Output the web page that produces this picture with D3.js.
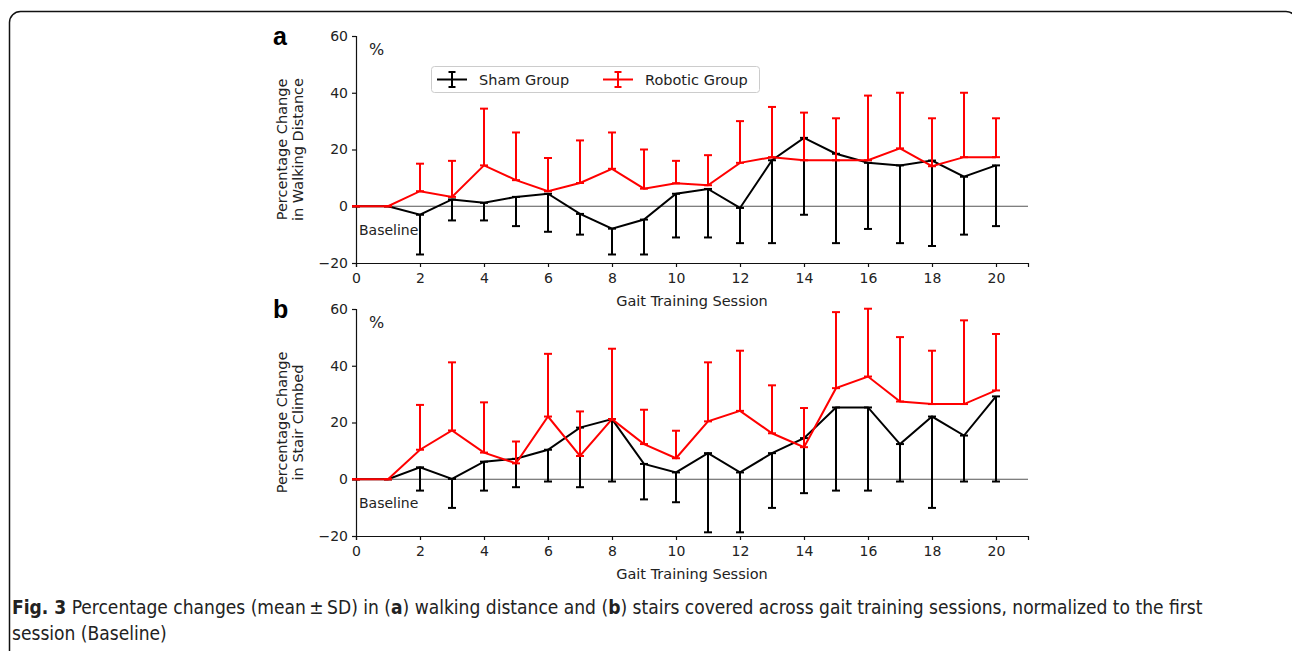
<!DOCTYPE html>
<html>
<head>
<meta charset="utf-8">
<script src="https://cdn.jsdelivr.net/npm/d3@7"></script>
<style>
  body { margin: 0; background: #fff; }
  svg { display: block; }
  .tick text { font-family: "DejaVu Sans", sans-serif; font-size: 14px; fill: #222; }
</style>
</head>
<body>
<div id="chart"></div>
<script>
// sessions 0..20
var sessions = d3.range(0, 21);
var yTicks = [-20, 0, 20, 40, 60];
var xTicks = [0, 2, 4, 6, 8, 10, 12, 14, 16, 18, 20];
var seriesNames = ["Sham Group", "Robotic Group"];

// panel a: walking distance (mean, SD)
var walkShamMean = [0, 0, -3, 2.4, 1.2, 3.3, 4.4, -2.7, -7.9, -4.7, 4.4, 6.1, -0.6, 16.2, 24.1, 18.5, 15.3, 14.4, 16.1, 10.4, 14.4];
var walkShamSD = [0, 0, 14, 7.4, 6.2, 10.3, 13.4, 7.3, 9.1, 12.3, 15.4, 17.1, 12.4, 29.2, 27.1, 31.5, 23.3, 27.4, 30.1, 20.4, 21.4];
var walkRoboMean = [0, 0, 5.3, 3.3, 14.4, 9.2, 5.3, 8.2, 13.2, 6.2, 8.1, 7.4, 15.3, 17.3, 16.2, 16.2, 16.2, 20.4, 14.1, 17.3, 17.3];
var walkRoboSD = [0, 0, 9.7, 12.7, 20, 16.8, 11.7, 15, 12.8, 13.8, 7.9, 10.6, 14.7, 17.7, 16.8, 14.8, 22.8, 19.6, 16.9, 22.7, 13.7];

// panel b: stairs climbed (mean, SD)
var stairShamMean = [0, 0, 4.2, 0.1, 6.2, 7.2, 10.4, 18.2, 21.2, 5.4, 2.4, 9.2, 2.4, 9.2, 14.5, 25.3, 25.3, 12.4, 22.1, 15.4, 29.2];
var stairShamSD = [0, 0, 8.2, 10.2, 10.2, 10, 11.2, 21, 22, 12.5, 10.5, 27.9, 21.1, 19.3, 19.4, 29.3, 29.3, 13.2, 32.2, 16.2, 30];
var stairRoboMean = [0, 0, 10.4, 17.2, 9.4, 5.6, 22.1, 8.2, 21.2, 12.4, 7.4, 20.4, 24.1, 16.2, 11.3, 32.1, 36.2, 27.4, 26.5, 26.5, 31.3];
var stairRoboSD = [0, 0, 15.8, 24, 17.7, 7.7, 22.1, 15.7, 24.8, 12.1, 9.7, 20.8, 21.2, 16.9, 13.8, 26.8, 23.9, 22.7, 18.8, 29.5, 19.9];

var svgWidth = 1292;
var svgHeight = 651;
var red = "#ff0000";

var svg = d3.select("#chart")
  .append("svg")
  .attr("width", svgWidth)
  .attr("height", svgHeight);

// figure frame (rounded, open below)
svg.append("rect")
  .attr("x", 9.5).attr("y", 11.5)
  .attr("width", 1287.5).attr("height", 700)
  .attr("rx", 11)
  .attr("fill", "none")
  .attr("stroke", "#111")
  .attr("stroke-width", 1.5);

var x = d3.scaleLinear().domain([0, 21]).range([356, 1028]);

function drawPanel(opts) {
  var y = d3.scaleLinear().domain([-20, 60]).range([opts.bottom, opts.top]);
  var g = svg.append("g");

  // zero line
  g.append("line")
    .attr("x1", x(0)).attr("x2", x(21))
    .attr("y1", y(0)).attr("y2", y(0))
    .attr("stroke", "#555").attr("stroke-width", 1);

  // axes
  var xAxis = g.append("g")
    .attr("transform", `translate(0, ${opts.bottom})`)
    .call(d3.axisBottom(x).tickValues(xTicks).tickSize(4).tickPadding(4));
  var yAxis = g.append("g")
    .attr("transform", `translate(${x(0)}, 0)`)
    .call(d3.axisLeft(y).tickValues(yTicks).tickSize(4).tickPadding(4)
      .tickFormat(d => d < 0 ? "\u2212" + Math.abs(d) : d));
  [xAxis, yAxis].forEach(function (a) {
    a.select(".domain").attr("stroke", "#111").attr("stroke-width", 1.2);
    a.selectAll(".tick line").attr("stroke", "#111").attr("stroke-width", 1.2);
  });
  xAxis.selectAll(".tick text").attr("dy", "0.85em");

  var series = [
    { mean: opts.shamMean, sd: opts.shamSD, color: "#000", dir: -1 },
    { mean: opts.roboMean, sd: opts.roboSD, color: red, dir: 1 }
  ];

  series.forEach(function (s) {
    var pts = sessions.map(function (d, i) {
      return { x: d, m: s.mean[i], e: s.mean[i] + s.dir * s.sd[i] };
    });
    var line = d3.line().x(d => x(d.x)).y(d => y(d.m));
    g.append("path")
      .datum(pts)
      .attr("d", line)
      .attr("fill", "none")
      .attr("stroke", s.color)
      .attr("stroke-width", 2);

    // one-sided error bars with caps at both ends
    var bars = g.append("g").attr("stroke", s.color).attr("stroke-width", 2);
    bars.selectAll(".bar").data(pts).enter().append("line")
      .attr("x1", d => x(d.x)).attr("x2", d => x(d.x))
      .attr("y1", d => y(d.m)).attr("y2", d => y(d.e));
    bars.selectAll(".capE").data(pts).enter().append("line")
      .attr("x1", d => x(d.x) - 4).attr("x2", d => x(d.x) + 4)
      .attr("y1", d => y(d.e)).attr("y2", d => y(d.e));
    bars.selectAll(".capM").data(pts).enter().append("line")
      .attr("x1", d => x(d.x) - 4).attr("x2", d => x(d.x) + 4)
      .attr("y1", d => y(d.m)).attr("y2", d => y(d.m));
  });

  // labels
  g.append("text")
    .attr("x", 273).attr("y", opts.top + 9)
    .style("font-family", "Liberation Sans, Arial, sans-serif")
    .style("font-weight", "bold").style("font-size", "25px")
    .text(opts.letter);
  g.append("text")
    .attr("x", 369).attr("y", opts.top + 19)
    .style("font-family", "DejaVu Sans, sans-serif").style("font-size", "16px")
    .attr("fill", "#222")
    .text("%");
  g.append("text")
    .attr("x", 359).attr("y", y(0) + 29)
    .style("font-family", "DejaVu Sans, sans-serif").style("font-size", "14px")
    .attr("fill", "#222")
    .text("Baseline");
  g.append("text")
    .attr("x", (x(0) + x(21)) / 2).attr("y", opts.bottom + 43)
    .attr("text-anchor", "middle")
    .style("font-family", "DejaVu Sans, sans-serif").style("font-size", "14.5px")
    .attr("fill", "#222")
    .text("Gait Training Session");
  var yMid = (opts.top + opts.bottom) / 2;
  var yl = g.append("text")
    .attr("transform", `translate(287, ${yMid}) rotate(-90)`)
    .attr("text-anchor", "middle")
    .style("font-family", "DejaVu Sans, sans-serif").style("font-size", "14.5px")
    .attr("fill", "#222");
  yl.append("tspan").attr("x", 0).attr("y", 0).text("Percentage Change");
  yl.append("tspan").attr("x", 0).attr("y", 16).text(opts.ylabel2);
  return y;
}

drawPanel({
  top: 36, bottom: 263, letter: "a", ylabel2: "in Walking Distance",
  shamMean: walkShamMean, shamSD: walkShamSD, roboMean: walkRoboMean, roboSD: walkRoboSD
});
drawPanel({
  top: 309, bottom: 536, letter: "b", ylabel2: "in Stair Climbed",
  shamMean: stairShamMean, shamSD: stairShamSD, roboMean: stairRoboMean, roboSD: stairRoboSD
});

// legend
var legend = svg.append("g");
legend.append("rect")
  .attr("x", 431.5).attr("y", 66.5).attr("width", 328).attr("height", 26)
  .attr("rx", 3)
  .attr("fill", "#fff").attr("fill-opacity", 0.8)
  .attr("stroke", "#ccc");
var legendItems = [
  { name: seriesNames[0], color: "#000", x: 437, tx: 479 },
  { name: seriesNames[1], color: red, x: 603, tx: 645 }
];
legendItems.forEach(function (d) {
  var ig = legend.append("g").attr("stroke", d.color).attr("stroke-width", 2);
  var cx = d.x + 15;
  ig.append("line").attr("x1", d.x).attr("x2", d.x + 30).attr("y1", 79.5).attr("y2", 79.5);
  ig.append("line").attr("x1", cx).attr("x2", cx).attr("y1", 72).attr("y2", 87);
  ig.append("line").attr("x1", cx - 3.5).attr("x2", cx + 3.5).attr("y1", 72).attr("y2", 72);
  ig.append("line").attr("x1", cx - 3.5).attr("x2", cx + 3.5).attr("y1", 87).attr("y2", 87);
  legend.append("text")
    .attr("x", d.tx).attr("y", 84.5)
    .style("font-family", "DejaVu Sans, sans-serif").style("font-size", "14.5px")
    .attr("fill", "#222")
    .text(d.name);
});

// caption: fit first line to the width used in the figure
var capFont = "DejaVu Sans Condensed, Liberation Sans Narrow, sans-serif";
var cap1 = svg.append("text")
  .attr("x", 12).attr("y", 614)
  .style("font-family", capFont)
  .style("font-size", "18px").attr("fill", "#222");
cap1.append("tspan").style("font-weight", "bold").text("Fig. 3");
cap1.append("tspan").text(" Percentage changes (mean\u2009\u00b1\u2009SD) in (");
cap1.append("tspan").style("font-weight", "bold").text("a");
cap1.append("tspan").text(") walking distance and (");
cap1.append("tspan").style("font-weight", "bold").text("b");
cap1.append("tspan").text(") stairs covered across gait training sessions, normalized to the first");
var capSize = 18 * 1191 / cap1.node().getComputedTextLength();
cap1.style("font-size", capSize + "px");
svg.append("text")
  .attr("x", 12).attr("y", 640)
  .style("font-family", capFont)
  .style("font-size", capSize + "px").attr("fill", "#222")
  .text("session (Baseline)");
</script>
</body>
</html>
